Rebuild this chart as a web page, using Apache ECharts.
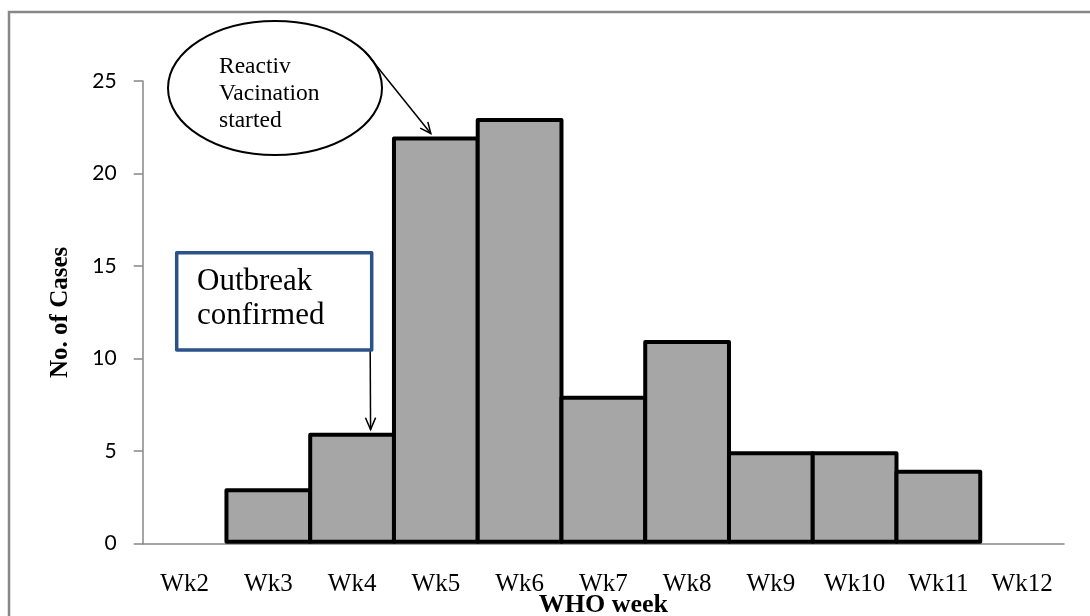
<!DOCTYPE html>
<html>
<head>
<meta charset="utf-8">
<script src="https://cdn.jsdelivr.net/npm/echarts@6/dist/echarts.min.js"></script>
<style>
html,body{margin:0;padding:0;background:#ffffff;}
#chart{width:1090px;height:616px;}
</style>
</head>
<body>
<div id="chart"></div>
<script>
// ---- data ----
const categories = ['Wk2','Wk3','Wk4','Wk5','Wk6','Wk7','Wk8','Wk9','Wk10','Wk11','Wk12'];
const cases = [0, 3, 6, 22, 23, 8, 11, 5, 5, 4, 0];
const yMin = 0, yMax = 25, yInterval = 5;
const xAxisTitle = 'WHO week';
const yAxisTitle = 'No. of Cases';
const vaccinationNote = ['Reactiv', 'Vacination', 'started'];
const outbreakNote = ['Outbreak', 'confirmed'];
const vaccinationWeek = 'Wk5';
const outbreakWeek = 'Wk4';

// ---- chart ----
const W = 1090, H = 616;
const gridLeft = 142.7, gridRight = 26, gridTop = 81, gridBottom = 72.3;
const barBorder = 4;
const bandWidth = (W - gridLeft - gridRight) / categories.length;

const chart = echarts.init(document.getElementById('chart'), null, {renderer: 'canvas'});
const serif = '"Liberation Serif","Times New Roman",serif';
const axisGray = '#878787';

chart.setOption({
  animation: false,
  backgroundColor: '#ffffff',
  grid: {left: gridLeft, right: gridRight, top: gridTop, bottom: gridBottom,
         containLabel: false, outerBoundsMode: 'none'},
  xAxis: {
    type: 'category',
    data: categories,
    boundaryGap: true,
    axisLine: {lineStyle: {color: axisGray, width: 1.5}},
    axisTick: {show: false},
    axisLabel: {color: '#000', fontFamily: serif, fontSize: 25, margin: 28},
    splitLine: {show: false},
    name: xAxisTitle,
    nameLocation: 'middle',
    nameGap: 49,
    nameMoveOverlap: false,
    nameTextStyle: {color: '#000', fontFamily: serif, fontWeight: 'bold', fontSize: 26}
  },
  yAxis: {
    type: 'value',
    min: yMin, max: yMax, interval: yInterval,
    axisLine: {show: true, lineStyle: {color: axisGray, width: 1.5}},
    axisTick: {show: true, length: 9, lineStyle: {color: axisGray, width: 1.5}},
    axisLabel: {color: '#000', fontFamily: 'Lato, "Liberation Sans", sans-serif', fontSize: 21, margin: 26},
    splitLine: {show: false},
    name: yAxisTitle,
    nameLocation: 'middle',
    nameRotate: 90,
    nameGap: 70,
    nameMoveOverlap: false,
    nameTextStyle: {color: '#000', fontFamily: serif, fontWeight: 'bold', fontSize: 25}
  },
  series: [{
    type: 'bar',
    data: cases.map(v => ({value: v, itemStyle: {borderWidth: v === 0 ? 0 : barBorder}})),
    barWidth: bandWidth + barBorder,
    barCategoryGap: '0%',
    itemStyle: {color: '#A6A6A6', borderColor: '#000000', borderWidth: barBorder, borderJoin: 'round'},
    emphasis: {disabled: true}
  }]
});

// ---- annotations ----
function arrowHead(tip, from, len, ang) {
  const dx = from[0] - tip[0], dy = from[1] - tip[1];
  const a = Math.atan2(dy, dx);
  return [
    [tip[0] + len * Math.cos(a + ang), tip[1] + len * Math.sin(a + ang)],
    [tip[0], tip[1]],
    [tip[0] + len * Math.cos(a - ang), tip[1] + len * Math.sin(a - ang)]
  ];
}

const vIdx = categories.indexOf(vaccinationWeek);
const oIdx = categories.indexOf(outbreakWeek);
const vTop = chart.convertToPixel({gridIndex: 0}, [vaccinationWeek, cases[vIdx]]);
const oTop = chart.convertToPixel({gridIndex: 0}, [outbreakWeek, cases[oIdx]]);

const ell = {cx: 275, cy: 88, rx: 107, ry: 67};
const box = {x: 176.7, y: 252.7, w: 195, h: 97.3};

const vTip = [vTop[0] - 5, vTop[1] - 3];
const vFrom = [365, 51.5];
const oTip = [oTop[0] + 18.5, oTop[1] - 3];
const oFrom = [box.x + box.w - 1.5, box.y + box.h];

chart.setOption({
  graphic: [
    {type: 'rect', silent: true, z: 1, shape: {x: 9, y: 12, width: 1200, height: 1000},
     style: {fill: 'none', stroke: axisGray, lineWidth: 2.5}},
    {type: 'ellipse', silent: true, z: 10, shape: ell,
     style: {fill: '#ffffff', stroke: '#000000', lineWidth: 2}},
    {type: 'text', silent: true, z: 11, x: 219, y: 53,
     style: {text: vaccinationNote.join('\n'), font: '23.5px ' + serif, fill: '#000', lineHeight: 27,
             align: 'left', verticalAlign: 'top'}},
    {type: 'line', silent: true, z: 11, shape: {x1: vFrom[0], y1: vFrom[1], x2: vTip[0], y2: vTip[1]},
     style: {stroke: '#000', lineWidth: 1.5}},
    {type: 'polyline', silent: true, z: 11, shape: {points: arrowHead(vTip, vFrom, 12, 0.42)},
     style: {stroke: '#000', lineWidth: 1.5, fill: 'none'}},
    {type: 'rect', silent: true, z: 10, shape: {x: box.x, y: box.y, width: box.w, height: box.h},
     style: {fill: '#ffffff', stroke: '#2B5289', lineWidth: 3.5, lineJoin: 'round'}},
    {type: 'text', silent: true, z: 11, x: 197, y: 265,
     style: {text: outbreakNote.join('\n'), font: '31px ' + serif, fill: '#000', lineHeight: 34,
             align: 'left', verticalAlign: 'top'}},
    {type: 'line', silent: true, z: 11, shape: {x1: oFrom[0], y1: oFrom[1] + 1.5, x2: oTip[0], y2: oTip[1]},
     style: {stroke: '#000', lineWidth: 1.5}},
    {type: 'polyline', silent: true, z: 11, shape: {points: arrowHead(oTip, oFrom, 13, 0.4)},
     style: {stroke: '#000', lineWidth: 1.5, fill: 'none'}}
  ]
});
</script>
</body>
</html>
